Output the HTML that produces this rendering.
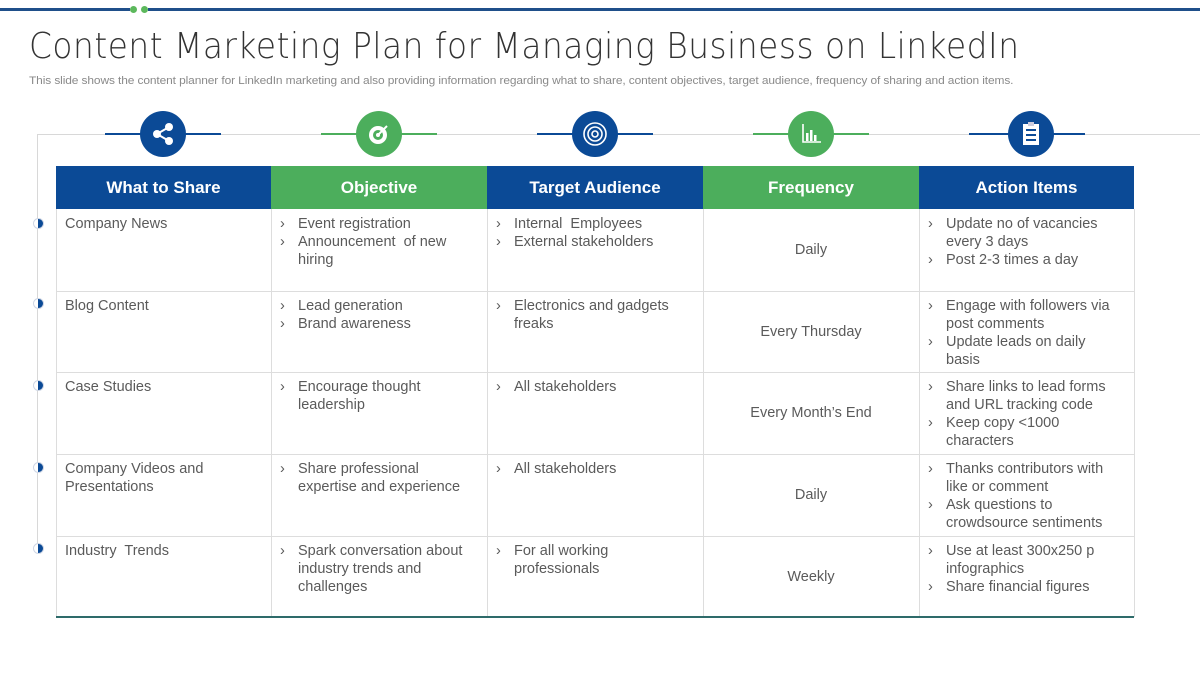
<!DOCTYPE html>
<html><head><meta charset="utf-8"><style>
*{margin:0;padding:0;box-sizing:border-box}
body{width:1200px;height:675px;background:#fff;position:relative;overflow:hidden;font-family:"Liberation Sans",sans-serif}
.a{position:absolute}
.h{position:absolute;top:166px;height:43px;color:#fff;font-weight:bold;font-size:17px;text-align:center;line-height:43px}
.c{position:absolute;font-size:14.5px;color:#5a5a5a;line-height:18px;padding:6px 22px 0 9px}
.c ul{list-style:none}
.c li{position:relative;padding-left:18px}
.c li:before{content:"›";position:absolute;left:0;top:0}
.ctr{display:flex;align-items:center;justify-content:center;padding:0}
.dot{position:absolute;left:33px;width:11px;height:11px;border-radius:50%;background:linear-gradient(90deg,#fff 45%,#0b4a96 45%);border:1px solid #cfd6e4}
.ic{position:absolute;top:111px;width:46px;height:46px;border-radius:50%;display:flex;align-items:center;justify-content:center}
.seg{position:absolute;top:133px;height:2px;width:116px}
</style></head><body>
<div class="a" style="left:0;top:8px;width:130px;height:3px;background:#1f4f8a"></div>
<div class="a" style="left:148px;top:8px;width:1052px;height:3px;background:#1f4f8a"></div>
<div class="a" style="left:130px;top:6px;width:7px;height:7px;border-radius:50%;background:#5cb85c"></div>
<div class="a" style="left:141px;top:6px;width:7px;height:7px;border-radius:50%;background:#5cb85c"></div>
<div class="a" style="left:29px;top:26px;font-size:36px;color:#333;letter-spacing:0.6px;font-family:'DejaVu Sans','Liberation Sans',sans-serif;font-weight:300;transform:scaleX(0.91);transform-origin:left;white-space:nowrap">Content Marketing Plan for Managing Business on LinkedIn</div>
<div class="a" style="left:29px;top:75px;font-size:11px;color:#8a8a8a;letter-spacing:-0.1px;white-space:nowrap;transform:scaleX(1.085);transform-origin:left">This slide shows the content planner for LinkedIn marketing and also providing information regarding what to share, content objectives, target audience, frequency of sharing and action items.</div>
<div class="a" style="left:37px;top:134px;width:1163px;height:1px;background:#d8d8d8"></div>
<div class="a" style="left:37px;top:134px;width:1px;height:416px;background:#d8d8d8"></div>

<div class="seg" style="left:105px;background:#0b4a96"></div>
<div class="seg" style="left:321px;background:#4cae5c"></div>
<div class="seg" style="left:537px;background:#0b4a96"></div>
<div class="seg" style="left:753px;background:#4cae5c"></div>
<div class="seg" style="left:969px;background:#0b4a96"></div>
<div class="ic" style="left:140px;background:#0b4a96"><svg width="26" height="26" viewBox="0 0 26 26"><g fill="#fff"><circle cx="19" cy="6" r="4"/><circle cx="7" cy="13" r="4"/><circle cx="19" cy="20" r="4"/></g><path d="M19 6L7 13L19 20" stroke="#fff" stroke-width="2" fill="none"/></svg></div>
<div class="ic" style="left:356px;background:#4cae5c"><svg width="26" height="26" viewBox="0 0 26 26"><circle cx="12" cy="14" r="9" fill="#fff"/><circle cx="12" cy="14" r="5" fill="#4cae5c"/><circle cx="12" cy="14" r="2" fill="#fff"/><path d="M12 14L21 5" stroke="#fff" stroke-width="2"/></svg></div>
<div class="ic" style="left:572px;background:#0b4a96"><svg width="28" height="28" viewBox="0 0 28 28"><g fill="none" stroke="#fff" stroke-width="1.6"><circle cx="14" cy="14" r="11"/><circle cx="14" cy="14" r="7"/><circle cx="14" cy="14" r="3"/></g></svg></div>
<div class="ic" style="left:788px;background:#4cae5c"><svg width="26" height="26" viewBox="0 0 26 26"><path d="M5 3V21H23" stroke="#fff" stroke-width="1.6" fill="none"/><g fill="#fff"><rect x="8" y="12" width="2.5" height="8"/><rect x="12" y="9" width="2.5" height="11"/><rect x="16" y="14" width="2.5" height="6"/></g></svg></div>
<div class="ic" style="left:1008px;background:#0b4a96"><svg width="24" height="28" viewBox="0 0 24 28"><rect x="4" y="4" width="16" height="21" fill="#fff"/><rect x="9" y="2" width="6" height="4" fill="#ccd"/><g fill="#0b4a96"><rect x="7" y="9" width="10" height="2"/><rect x="7" y="14" width="10" height="2"/><rect x="7" y="19" width="10" height="2"/></g></svg></div>

<div class="h" style="left:56px;width:215px;background:#0b4a96">What to Share</div>
<div class="h" style="left:271px;width:216px;background:#4cae5c">Objective</div>
<div class="h" style="left:487px;width:216px;background:#0b4a96">Target Audience</div>
<div class="h" style="left:703px;width:216px;background:#4cae5c">Frequency</div>
<div class="h" style="left:919px;width:215px;background:#0b4a96">Action Items</div>

<div class="a" style="left:56px;top:209px;width:1px;height:408px;background:#ddd"></div>
<div class="a" style="left:271px;top:209px;width:1px;height:408px;background:#ddd"></div>
<div class="a" style="left:487px;top:209px;width:1px;height:408px;background:#ddd"></div>
<div class="a" style="left:703px;top:209px;width:1px;height:408px;background:#ddd"></div>
<div class="a" style="left:919px;top:209px;width:1px;height:408px;background:#ddd"></div>
<div class="a" style="left:1134px;top:209px;width:1px;height:408px;background:#ddd"></div>
<div class="a" style="left:56px;top:291px;width:1078px;height:1px;background:#ddd"></div>
<div class="a" style="left:56px;top:372px;width:1078px;height:1px;background:#ddd"></div>
<div class="a" style="left:56px;top:454px;width:1078px;height:1px;background:#ddd"></div>
<div class="a" style="left:56px;top:536px;width:1078px;height:1px;background:#ddd"></div>
<div class="a" style="left:56px;top:616px;width:1078px;height:2px;background:#2e6b6a"></div>

<div class="dot" style="top:218px"></div>
<div class="dot" style="top:298px"></div>
<div class="dot" style="top:380px"></div>
<div class="dot" style="top:462px"></div>
<div class="dot" style="top:543px"></div>

<div class="c" style="left:56px;top:209px;width:215px">Company News</div>
<div class="c" style="left:271px;top:209px;width:216px"><ul><li>Event registration</li><li>Announcement&nbsp; of new hiring</li></ul></div>
<div class="c" style="left:487px;top:209px;width:216px"><ul><li>Internal&nbsp; Employees</li><li>External stakeholders</li></ul></div>
<div class="c ctr" style="left:703px;top:209px;width:216px;height:82px">Daily</div>
<div class="c" style="left:919px;top:209px;width:215px"><ul><li>Update no of vacancies every 3 days</li><li>Post 2-3 times a day</li></ul></div>

<div class="c" style="left:56px;top:291px;width:215px">Blog Content</div>
<div class="c" style="left:271px;top:291px;width:216px"><ul><li>Lead generation</li><li>Brand awareness</li></ul></div>
<div class="c" style="left:487px;top:291px;width:216px"><ul><li>Electronics and gadgets freaks</li></ul></div>
<div class="c ctr" style="left:703px;top:291px;width:216px;height:81px">Every Thursday</div>
<div class="c" style="left:919px;top:291px;width:215px"><ul><li>Engage with followers via post comments</li><li>Update leads on daily basis</li></ul></div>

<div class="c" style="left:56px;top:372px;width:215px">Case Studies</div>
<div class="c" style="left:271px;top:372px;width:216px"><ul><li>Encourage thought leadership</li></ul></div>
<div class="c" style="left:487px;top:372px;width:216px"><ul><li>All stakeholders</li></ul></div>
<div class="c ctr" style="left:703px;top:372px;width:216px;height:82px">Every Month’s End</div>
<div class="c" style="left:919px;top:372px;width:215px"><ul><li>Share links to lead forms and URL tracking code</li><li>Keep copy &lt;1000 characters</li></ul></div>

<div class="c" style="left:56px;top:454px;width:215px">Company Videos and Presentations</div>
<div class="c" style="left:271px;top:454px;width:216px"><ul><li>Share professional expertise and experience</li></ul></div>
<div class="c" style="left:487px;top:454px;width:216px"><ul><li>All stakeholders</li></ul></div>
<div class="c ctr" style="left:703px;top:454px;width:216px;height:82px">Daily</div>
<div class="c" style="left:919px;top:454px;width:215px"><ul><li>Thanks contributors with like or comment</li><li>Ask questions to crowdsource sentiments</li></ul></div>

<div class="c" style="left:56px;top:536px;width:215px">Industry&nbsp; Trends</div>
<div class="c" style="left:271px;top:536px;width:216px"><ul><li>Spark conversation about industry trends and challenges</li></ul></div>
<div class="c" style="left:487px;top:536px;width:216px"><ul><li>For all working professionals</li></ul></div>
<div class="c ctr" style="left:703px;top:536px;width:216px;height:81px">Weekly</div>
<div class="c" style="left:919px;top:536px;width:215px"><ul><li>Use at least 300x250 p infographics</li><li>Share financial figures</li></ul></div>
</body></html>
